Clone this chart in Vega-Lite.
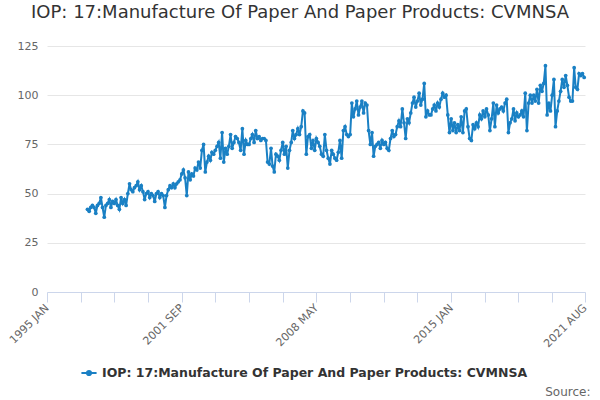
{
  "$schema": "https://vega.github.io/schema/vega-lite/v6.json",
  "autosize": {"type": "none"},
  "width": 538,
  "height": 246,
  "padding": {"left": 47, "top": 46, "right": 15, "bottom": 108},
  "background": "#ffffff",
  "config": {
    "font": "DejaVu Sans",
    "view": {"stroke": null}
  },
  "title": {
    "text": "IOP: 17:Manufacture Of Paper And Paper Products: CVMNSA",
    "fontSize": 18,
    "fontWeight": "normal",
    "color": "#333333",
    "anchor": "middle",
    "offset": 18,
    "dx": -16
  },
  "data": {
    "values": [
      {"month": "1997-01", "value": 42}, {"month": "1997-02", "value": 41}, {"month": "1997-03", "value": 43}, {"month": "1997-04", "value": 44},
      {"month": "1997-05", "value": 43}, {"month": "1997-06", "value": 40}, {"month": "1997-07", "value": 44}, {"month": "1997-08", "value": 45},
      {"month": "1997-09", "value": 48}, {"month": "1997-10", "value": 43}, {"month": "1997-11", "value": 38}, {"month": "1997-12", "value": 44},
      {"month": "1998-01", "value": 45}, {"month": "1998-02", "value": 47}, {"month": "1998-03", "value": 43}, {"month": "1998-04", "value": 46},
      {"month": "1998-05", "value": 45}, {"month": "1998-06", "value": 47}, {"month": "1998-07", "value": 44}, {"month": "1998-08", "value": 42},
      {"month": "1998-09", "value": 48}, {"month": "1998-10", "value": 45}, {"month": "1998-11", "value": 47}, {"month": "1998-12", "value": 44},
      {"month": "1999-01", "value": 50}, {"month": "1999-02", "value": 55}, {"month": "1999-03", "value": 52}, {"month": "1999-04", "value": 51},
      {"month": "1999-05", "value": 53}, {"month": "1999-06", "value": 54}, {"month": "1999-07", "value": 56}, {"month": "1999-08", "value": 52},
      {"month": "1999-09", "value": 54}, {"month": "1999-10", "value": 51}, {"month": "1999-11", "value": 47}, {"month": "1999-12", "value": 50},
      {"month": "2000-01", "value": 51}, {"month": "2000-02", "value": 48}, {"month": "2000-03", "value": 50}, {"month": "2000-04", "value": 49},
      {"month": "2000-05", "value": 46}, {"month": "2000-06", "value": 50}, {"month": "2000-07", "value": 51}, {"month": "2000-08", "value": 48},
      {"month": "2000-09", "value": 50}, {"month": "2000-10", "value": 49}, {"month": "2000-11", "value": 43}, {"month": "2000-12", "value": 49},
      {"month": "2001-01", "value": 52}, {"month": "2001-02", "value": 54}, {"month": "2001-03", "value": 53}, {"month": "2001-04", "value": 55},
      {"month": "2001-05", "value": 53}, {"month": "2001-06", "value": 55}, {"month": "2001-07", "value": 56}, {"month": "2001-08", "value": 57},
      {"month": "2001-09", "value": 60}, {"month": "2001-10", "value": 62}, {"month": "2001-11", "value": 58}, {"month": "2001-12", "value": 49},
      {"month": "2002-01", "value": 61}, {"month": "2002-02", "value": 57}, {"month": "2002-03", "value": 60}, {"month": "2002-04", "value": 59},
      {"month": "2002-05", "value": 63}, {"month": "2002-06", "value": 62}, {"month": "2002-07", "value": 66}, {"month": "2002-08", "value": 63},
      {"month": "2002-09", "value": 72}, {"month": "2002-10", "value": 75}, {"month": "2002-11", "value": 61}, {"month": "2002-12", "value": 66},
      {"month": "2003-01", "value": 69}, {"month": "2003-02", "value": 67}, {"month": "2003-03", "value": 71}, {"month": "2003-04", "value": 70},
      {"month": "2003-05", "value": 72}, {"month": "2003-06", "value": 74}, {"month": "2003-07", "value": 76}, {"month": "2003-08", "value": 68},
      {"month": "2003-09", "value": 81}, {"month": "2003-10", "value": 66}, {"month": "2003-11", "value": 73}, {"month": "2003-12", "value": 70},
      {"month": "2004-01", "value": 74}, {"month": "2004-02", "value": 80}, {"month": "2004-03", "value": 73}, {"month": "2004-04", "value": 76},
      {"month": "2004-05", "value": 79}, {"month": "2004-06", "value": 78}, {"month": "2004-07", "value": 76}, {"month": "2004-08", "value": 72},
      {"month": "2004-09", "value": 83}, {"month": "2004-10", "value": 70}, {"month": "2004-11", "value": 77}, {"month": "2004-12", "value": 75},
      {"month": "2005-01", "value": 75}, {"month": "2005-02", "value": 78}, {"month": "2005-03", "value": 80}, {"month": "2005-04", "value": 76},
      {"month": "2005-05", "value": 82}, {"month": "2005-06", "value": 78}, {"month": "2005-07", "value": 79}, {"month": "2005-08", "value": 77},
      {"month": "2005-09", "value": 78}, {"month": "2005-10", "value": 78}, {"month": "2005-11", "value": 77}, {"month": "2005-12", "value": 66},
      {"month": "2006-01", "value": 65}, {"month": "2006-02", "value": 73}, {"month": "2006-03", "value": 64}, {"month": "2006-04", "value": 61},
      {"month": "2006-05", "value": 70}, {"month": "2006-06", "value": 69}, {"month": "2006-07", "value": 67}, {"month": "2006-08", "value": 72},
      {"month": "2006-09", "value": 76}, {"month": "2006-10", "value": 70}, {"month": "2006-11", "value": 74}, {"month": "2006-12", "value": 63},
      {"month": "2007-01", "value": 72}, {"month": "2007-02", "value": 76}, {"month": "2007-03", "value": 82}, {"month": "2007-04", "value": 78},
      {"month": "2007-05", "value": 80}, {"month": "2007-06", "value": 83}, {"month": "2007-07", "value": 80}, {"month": "2007-08", "value": 84},
      {"month": "2007-09", "value": 92}, {"month": "2007-10", "value": 91}, {"month": "2007-11", "value": 70}, {"month": "2007-12", "value": 79},
      {"month": "2008-01", "value": 80}, {"month": "2008-02", "value": 73}, {"month": "2008-03", "value": 77}, {"month": "2008-04", "value": 72},
      {"month": "2008-05", "value": 78}, {"month": "2008-06", "value": 76}, {"month": "2008-07", "value": 74}, {"month": "2008-08", "value": 70},
      {"month": "2008-09", "value": 69}, {"month": "2008-10", "value": 80}, {"month": "2008-11", "value": 72}, {"month": "2008-12", "value": 68},
      {"month": "2009-01", "value": 65}, {"month": "2009-02", "value": 72}, {"month": "2009-03", "value": 70}, {"month": "2009-04", "value": 68},
      {"month": "2009-05", "value": 67}, {"month": "2009-06", "value": 71}, {"month": "2009-07", "value": 77}, {"month": "2009-08", "value": 68},
      {"month": "2009-09", "value": 82}, {"month": "2009-10", "value": 84}, {"month": "2009-11", "value": 80}, {"month": "2009-12", "value": 79},
      {"month": "2010-01", "value": 80}, {"month": "2010-02", "value": 96}, {"month": "2010-03", "value": 89}, {"month": "2010-04", "value": 93},
      {"month": "2010-05", "value": 97}, {"month": "2010-06", "value": 90}, {"month": "2010-07", "value": 94}, {"month": "2010-08", "value": 97},
      {"month": "2010-09", "value": 91}, {"month": "2010-10", "value": 96}, {"month": "2010-11", "value": 95}, {"month": "2010-12", "value": 82},
      {"month": "2011-01", "value": 75}, {"month": "2011-02", "value": 81}, {"month": "2011-03", "value": 69}, {"month": "2011-04", "value": 74},
      {"month": "2011-05", "value": 75}, {"month": "2011-06", "value": 76}, {"month": "2011-07", "value": 73}, {"month": "2011-08", "value": 77},
      {"month": "2011-09", "value": 75}, {"month": "2011-10", "value": 76}, {"month": "2011-11", "value": 73}, {"month": "2011-12", "value": 72},
      {"month": "2012-01", "value": 78}, {"month": "2012-02", "value": 82}, {"month": "2012-03", "value": 79}, {"month": "2012-04", "value": 80},
      {"month": "2012-05", "value": 84}, {"month": "2012-06", "value": 87}, {"month": "2012-07", "value": 84}, {"month": "2012-08", "value": 93},
      {"month": "2012-09", "value": 86}, {"month": "2012-10", "value": 78}, {"month": "2012-11", "value": 88}, {"month": "2012-12", "value": 86},
      {"month": "2013-01", "value": 91}, {"month": "2013-02", "value": 96}, {"month": "2013-03", "value": 99}, {"month": "2013-04", "value": 94},
      {"month": "2013-05", "value": 97}, {"month": "2013-06", "value": 101}, {"month": "2013-07", "value": 95}, {"month": "2013-08", "value": 98},
      {"month": "2013-09", "value": 106}, {"month": "2013-10", "value": 89}, {"month": "2013-11", "value": 92}, {"month": "2013-12", "value": 90},
      {"month": "2014-01", "value": 90}, {"month": "2014-02", "value": 93}, {"month": "2014-03", "value": 95}, {"month": "2014-04", "value": 92},
      {"month": "2014-05", "value": 96}, {"month": "2014-06", "value": 94}, {"month": "2014-07", "value": 98}, {"month": "2014-08", "value": 101},
      {"month": "2014-09", "value": 99}, {"month": "2014-10", "value": 100}, {"month": "2014-11", "value": 90}, {"month": "2014-12", "value": 81},
      {"month": "2015-01", "value": 88}, {"month": "2015-02", "value": 82}, {"month": "2015-03", "value": 86}, {"month": "2015-04", "value": 81},
      {"month": "2015-05", "value": 85}, {"month": "2015-06", "value": 82}, {"month": "2015-07", "value": 89}, {"month": "2015-08", "value": 81},
      {"month": "2015-09", "value": 92}, {"month": "2015-10", "value": 93}, {"month": "2015-11", "value": 84}, {"month": "2015-12", "value": 78},
      {"month": "2016-01", "value": 77}, {"month": "2016-02", "value": 85}, {"month": "2016-03", "value": 83}, {"month": "2016-04", "value": 86},
      {"month": "2016-05", "value": 84}, {"month": "2016-06", "value": 90}, {"month": "2016-07", "value": 88}, {"month": "2016-08", "value": 92},
      {"month": "2016-09", "value": 89}, {"month": "2016-10", "value": 93}, {"month": "2016-11", "value": 90}, {"month": "2016-12", "value": 82},
      {"month": "2017-01", "value": 88}, {"month": "2017-02", "value": 96}, {"month": "2017-03", "value": 84}, {"month": "2017-04", "value": 95},
      {"month": "2017-05", "value": 91}, {"month": "2017-06", "value": 93}, {"month": "2017-07", "value": 94}, {"month": "2017-08", "value": 92},
      {"month": "2017-09", "value": 96}, {"month": "2017-10", "value": 98}, {"month": "2017-11", "value": 81}, {"month": "2017-12", "value": 86},
      {"month": "2018-01", "value": 88}, {"month": "2018-02", "value": 93}, {"month": "2018-03", "value": 87}, {"month": "2018-04", "value": 91},
      {"month": "2018-05", "value": 89}, {"month": "2018-06", "value": 90}, {"month": "2018-07", "value": 92}, {"month": "2018-08", "value": 89},
      {"month": "2018-09", "value": 101}, {"month": "2018-10", "value": 82}, {"month": "2018-11", "value": 96}, {"month": "2018-12", "value": 100},
      {"month": "2019-01", "value": 96}, {"month": "2019-02", "value": 100}, {"month": "2019-03", "value": 97}, {"month": "2019-04", "value": 103},
      {"month": "2019-05", "value": 96}, {"month": "2019-06", "value": 105}, {"month": "2019-07", "value": 102}, {"month": "2019-08", "value": 106},
      {"month": "2019-09", "value": 115}, {"month": "2019-10", "value": 90}, {"month": "2019-11", "value": 96}, {"month": "2019-12", "value": 92},
      {"month": "2020-01", "value": 100}, {"month": "2020-02", "value": 108}, {"month": "2020-03", "value": 84}, {"month": "2020-04", "value": 92},
      {"month": "2020-05", "value": 97}, {"month": "2020-06", "value": 102}, {"month": "2020-07", "value": 108}, {"month": "2020-08", "value": 104},
      {"month": "2020-09", "value": 110}, {"month": "2020-10", "value": 105}, {"month": "2020-11", "value": 99}, {"month": "2020-12", "value": 97},
      {"month": "2021-01", "value": 97}, {"month": "2021-02", "value": 114}, {"month": "2021-03", "value": 104}, {"month": "2021-04", "value": 103},
      {"month": "2021-05", "value": 111}, {"month": "2021-06", "value": 110}, {"month": "2021-07", "value": 111}, {"month": "2021-08", "value": 109}
    ]
  },
  "mark": {
    "type": "line",
    "strokeWidth": 2,
    "point": {"filled": true, "size": 14}
  },
  "encoding": {
    "x": {
      "field": "month",
      "type": "temporal",
      "scale": {
        "type": "utc",
        "domain": [
          {"year": 1995, "month": 1, "date": 1, "utc": true},
          {"year": 2021, "month": 8, "date": 16, "utc": true}
        ]
      },
      "axis": {
        "title": "Source:",
        "titleFontSize": 12,
        "titleFontWeight": "normal",
        "titleColor": "#666666",
        "titleAnchor": "end",
        "titleAlign": "right",
        "titleBaseline": "alphabetic",
        "titleX": 543,
        "titleY": 103,
        "values": [
          {"year": 1995, "month": 1, "date": 1, "utc": true},
          {"year": 1996, "month": 9, "date": 1, "utc": true},
          {"year": 1998, "month": 5, "date": 1, "utc": true},
          {"year": 2000, "month": 1, "date": 1, "utc": true},
          {"year": 2001, "month": 9, "date": 1, "utc": true},
          {"year": 2003, "month": 5, "date": 1, "utc": true},
          {"year": 2005, "month": 1, "date": 1, "utc": true},
          {"year": 2006, "month": 9, "date": 1, "utc": true},
          {"year": 2008, "month": 5, "date": 1, "utc": true},
          {"year": 2010, "month": 1, "date": 1, "utc": true},
          {"year": 2011, "month": 9, "date": 1, "utc": true},
          {"year": 2013, "month": 5, "date": 1, "utc": true},
          {"year": 2015, "month": 1, "date": 1, "utc": true},
          {"year": 2016, "month": 9, "date": 1, "utc": true},
          {"year": 2018, "month": 5, "date": 1, "utc": true},
          {"year": 2020, "month": 1, "date": 1, "utc": true},
          {"year": 2021, "month": 8, "date": 16, "utc": true}
        ],
        "labelExpr": "indexof(['1995 JAN','2001 SEP','2008 MAY','2015 JAN','2021 AUG'], upper(utcFormat(datum.value, '%Y %b'))) >= 0 ? upper(utcFormat(datum.value, '%Y %b')) : ''",
        "labelAngle": -45,
        "labelAlign": "right",
        "labelBaseline": "middle",
        "labelFontSize": 11,
        "labelColor": "#666666",
        "labelOverlap": false,
        "labelPadding": 4,
        "labelFlush": false,
        "grid": false,
        "domainColor": "#ccd6eb",
        "tickColor": "#ccd6eb",
        "tickSize": 10
      }
    },
    "y": {
      "field": "value",
      "type": "quantitative",
      "scale": {"domain": [0, 125]},
      "axis": {
        "title": null,
        "values": [0, 25, 50, 75, 100, 125],
        "domain": false,
        "ticks": false,
        "labelFontSize": 11,
        "labelColor": "#666666",
        "labelPadding": 9,
        "gridColor": "#e6e6e6"
      }
    },
    "color": {
      "datum": "IOP: 17:Manufacture Of Paper And Paper Products: CVMNSA",
      "scale": {"range": ["#1a80c4"]},
      "legend": {
        "title": null,
        "orient": "none",
        "legendX": 33,
        "legendY": 318,
        "symbolType": "M-1,0L1,0M-0.28,0A0.28,0.28,0,1,1,0.28,0A0.28,0.28,0,1,1,-0.28,0",
        "symbolSize": 230,
        "symbolStrokeWidth": 2,
        "symbolFillColor": "#1a80c4",
        "labelFontSize": 12.5,
        "labelFontWeight": "bold",
        "labelColor": "#333333",
        "labelLimit": 0
      }
    }
  }
}
